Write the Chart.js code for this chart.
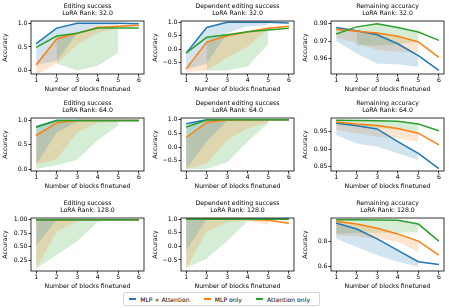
<!DOCTYPE html>
<html>
<head>
<meta charset="utf-8">
<script src="https://cdn.jsdelivr.net/npm/chart.js@4.4.0/dist/chart.umd.min.js"></script>
<style>
  html, body { margin: 0; padding: 0; background: #fff; }
  body { width: 449px; height: 308px; position: relative; overflow: hidden; font-family: "DejaVu Sans", sans-serif; }
  canvas.panel { position: absolute; }
  #legend {
    position: absolute; left: 123px; top: 292px; width: 195px; height: 12px;
    border: 1px solid #d6d6d6; border-radius: 2px; background: #fff;
    font-size: 6.1px; color: #000; display: flex; align-items: center;
  }
  #legend .sw { display: inline-block; width: 12px; height: 1.4px; margin: 0 4px 0 5px; }
  #legend .lb { margin-right: 9px; white-space: nowrap; }
</style>
</head>
<body>
<div id="legend"></div>
<script>
const steps = [1, 2, 3, 4, 5, 6];
const seriesNames = ['MLP + Attention', 'MLP only', 'Attention only'];
const seriesColors = ['#1f77b4', '#ff7f0e', '#2ca02c'];
const seriesFills = ['rgba(31,119,180,0.2)', 'rgba(255,127,14,0.2)', 'rgba(44,160,44,0.2)'];

// y tick values
const editTicks = [0, 0.5, 1.0];
const depTicks = [-0.5, 0, 0.5, 1.0];
const rem32Ticks = [0.96, 0.97, 0.98];
const rem64Ticks = [0.85, 0.90, 0.95];
const edit128Ticks = [0.25, 0.50, 0.75, 1.00];
const rem128Ticks = [0.6, 0.8];

// LoRA rank 32
const edit32Both = [0.57, 0.90, 1.00, 1.00, 1.00, 0.99];
const edit32Mlp  = [0.12, 0.67, 0.79, 0.92, 0.94, 0.96];
const edit32Attn = [0.49, 0.73, 0.79, 0.90, 0.90, 0.90];
const edit32BothLow = [0.12, 0.20, 0.80, 0.95, 0.97];
const edit32MlpLow  = [-0.10, 0.15, 0.55, 0.80, 0.90];
const edit32AttnLow = [null, 0.15, 0.00, 0.10, 0.38];

const dep32Both = [-0.15, 0.81, 1.00, 1.00, 1.00, 0.98];
const dep32Mlp  = [-0.74, 0.26, 0.50, 0.65, 0.78, 0.85];
const dep32Attn = [-0.15, 0.44, 0.54, 0.65, 0.71, 0.78];
const dep32BothLow = [-0.75, -0.55, 0.60, 0.85, 0.90];
const dep32MlpLow  = [-0.85, -0.80, -0.30, 0.10, 0.75];
const dep32AttnLow = [null, -0.80, -0.80, -0.65, 0.20];

const rem32Both = [0.9776, 0.9758, 0.9736, 0.9685, 0.9618, 0.9536];
const rem32Mlp  = [0.9767, 0.9755, 0.9745, 0.9727, 0.9696, 0.9609];
const rem32Attn = [0.9740, 0.9780, 0.9798, 0.9776, 0.9751, 0.9704];
const rem32BothLow = [0.9700, 0.9630, 0.9573, 0.9570, 0.9555];
const rem32MlpLow  = [0.9718, 0.9691, 0.9650, 0.9640, 0.9636];
const rem32AttnLow = [null, 0.9675, 0.9675, 0.9683, 0.9696];

// LoRA rank 64
const edit64Both = [0.87, 1.00, 1.00, 1.00, 1.00, 1.00];
const edit64Mlp  = [0.69, 0.95, 1.00, 1.00, 1.00, 1.00];
const edit64Attn = [0.86, 1.00, 1.00, 1.00, 1.00, 1.00];
const edit64BothLow = [0.10, 0.75, 0.98, 1.00, 1.00];
const edit64MlpLow  = [0.10, 0.20, 0.75, 0.95, 0.98];
const edit64AttnLow = [0.00, 0.08, 0.19, 0.60, 0.90];

const dep64Both = [0.85, 1.00, 1.00, 1.00, 1.00, 1.00];
const dep64Mlp  = [0.35, 0.90, 0.99, 1.00, 1.00, 1.00];
const dep64Attn = [0.73, 0.99, 1.00, 1.00, 1.00, 1.00];
const dep64BothLow = [-0.80, 0.20, 0.95, 1.00, 1.00];
const dep64MlpLow  = [-0.80, -0.60, 0.25, 0.70, 0.90];
const dep64AttnLow = [-0.80, -0.80, -0.55, 0.20, 0.88];

const rem64Both = [0.974, 0.966, 0.957, 0.921, 0.888, 0.845];
const rem64Mlp  = [0.977, 0.971, 0.967, 0.958, 0.945, 0.912];
const rem64Attn = [0.982, 0.981, 0.980, 0.979, 0.971, 0.952];
const rem64BothLow = [0.940, 0.916, 0.907, 0.888, 0.869];
const rem64MlpLow  = [0.955, 0.945, 0.935, 0.930, 0.921];
const rem64AttnLow = [0.969, 0.964, 0.960, 0.955, 0.950];

// LoRA rank 128
const edit128Both = [1.00, 1.00, 1.00, 1.00, 1.00, 1.00];
const edit128Mlp  = [1.00, 1.00, 1.00, 1.00, 1.00, 1.00];
const edit128Attn = [1.00, 1.00, 1.00, 1.00, 1.00, 1.00];
const edit128BothLow = [0.52, 1.00, 1.00, 1.00, 1.00];
const edit128MlpLow  = [0.10, 0.78, 0.97, 1.00, 1.00];
const edit128AttnLow = [0.09, 0.35, 0.60, 0.96, 1.00];

const dep128Both = [1.00, 1.00, 1.00, 1.00, 1.00, 1.00];
const dep128Mlp  = [1.00, 1.00, 1.00, 1.00, 0.97, 0.86];
const dep128Attn = [1.00, 1.00, 1.00, 1.00, 1.00, 1.00];
const dep128BothLow = [-0.15, 1.00, 1.00, 1.00, 1.00];
const dep128MlpLow  = [-0.80, 0.55, 0.90, 0.95, 0.80];
const dep128AttnLow = [-0.80, -0.45, 0.20, 0.93, 0.98];

const rem128Both = [0.949, 0.901, 0.821, 0.728, 0.635, 0.613];
const rem128Mlp  = [0.963, 0.941, 0.907, 0.861, 0.803, 0.688];
const rem128Attn = [0.976, 0.976, 0.973, 0.971, 0.941, 0.803];
const rem128BothLow = [0.821, 0.755, 0.688, 0.635, 0.595];
const rem128MlpLow  = [0.848, 0.840, 0.820, 0.800, 0.715];
const rem128AttnLow = [0.860, 0.870, 0.870, 0.870, 0.875];

const panels = [
  { title: 'Editing success', rank: '32.0', yMin: -0.075, yMax: 1.05, ticks: editTicks, dec: 1,
    lines: [edit32Both, edit32Mlp, edit32Attn], lows: [edit32BothLow, edit32MlpLow, edit32AttnLow] },
  { title: 'Dependent editing success', rank: '32.0', yMin: -0.93, yMax: 1.05, ticks: depTicks, dec: 1,
    lines: [dep32Both, dep32Mlp, dep32Attn], lows: [dep32BothLow, dep32MlpLow, dep32AttnLow] },
  { title: 'Remaining accuracy', rank: '32.0', yMin: 0.9515, yMax: 0.9813, ticks: rem32Ticks, dec: 2,
    lines: [rem32Both, rem32Mlp, rem32Attn], lows: [rem32BothLow, rem32MlpLow, rem32AttnLow] },
  { title: 'Editing success', rank: '64.0', yMin: -0.04, yMax: 1.05, ticks: editTicks, dec: 1,
    lines: [edit64Both, edit64Mlp, edit64Attn], lows: [edit64BothLow, edit64MlpLow, edit64AttnLow] },
  { title: 'Dependent editing success', rank: '64.0', yMin: -0.87, yMax: 1.06, ticks: depTicks, dec: 1,
    lines: [dep64Both, dep64Mlp, dep64Attn], lows: [dep64BothLow, dep64MlpLow, dep64AttnLow] },
  { title: 'Remaining accuracy', rank: '64.0', yMin: 0.838, yMax: 0.988, ticks: rem64Ticks, dec: 2,
    lines: [rem64Both, rem64Mlp, rem64Attn], lows: [rem64BothLow, rem64MlpLow, rem64AttnLow] },
  { title: 'Editing success', rank: '128.0', yMin: 0.05, yMax: 1.03, ticks: edit128Ticks, dec: 2,
    lines: [edit128Both, edit128Mlp, edit128Attn], lows: [edit128BothLow, edit128MlpLow, edit128AttnLow] },
  { title: 'Dependent editing success', rank: '128.0', yMin: -0.91, yMax: 1.05, ticks: depTicks, dec: 1,
    lines: [dep128Both, dep128Mlp, dep128Attn], lows: [dep128BothLow, dep128MlpLow, dep128AttnLow] },
  { title: 'Remaining accuracy', rank: '128.0', yMin: 0.56, yMax: 0.99, ticks: rem128Ticks, dec: 1,
    lines: [rem128Both, rem128Mlp, rem128Attn], lows: [rem128BothLow, rem128MlpLow, rem128AttnLow] }
];

const plotLeft = [31, 181, 331];
const plotTop = [21, 118, 218];
const yAxisW = 31;
const FONT = 6.2;

Chart.defaults.color = '#000';
Chart.defaults.font.family = '"DejaVu Sans", sans-serif';
Chart.defaults.font.size = FONT;

const frame = {
  id: 'frame',
  afterDraw(chart) {
    const { ctx, chartArea: a } = chart;
    ctx.save();
    ctx.strokeStyle = '#000';
    ctx.lineWidth = 0.8;
    ctx.strokeRect(a.left, a.top, a.right - a.left, a.bottom - a.top);
    ctx.restore();
  }
};

function pts(arr) {
  return arr.map((v, i) => ({ x: steps[i], y: v }));
}

panels.forEach((p, k) => {
  const col = k % 3, row = Math.floor(k / 3);
  const canvas = document.createElement('canvas');
  canvas.className = 'panel';
  canvas.width = 149;
  canvas.height = 100;
  canvas.style.left = (plotLeft[col] - yAxisW) + 'px';
  canvas.style.top = (plotTop[row] - 21) + 'px';
  document.body.appendChild(canvas);

  const datasets = [];
  // mean lines, green on top
  p.lines.forEach((arr, s) => {
    datasets.push({
      label: seriesNames[s], data: pts(arr), borderColor: seriesColors[s],
      borderWidth: 1.5, pointRadius: 0, fill: false, order: 3 - s
    });
  });
  // min/max bands
  p.lows.forEach((low, s) => {
    const high = low.map((v, i) => (v === null ? null : p.lines[s][i]));
    datasets.push({ data: pts(low), borderWidth: 0, pointRadius: 0, fill: false, order: 10 + s });
    datasets.push({ data: pts(high), borderWidth: 0, pointRadius: 0, fill: '-1',
      backgroundColor: seriesFills[s], order: 10 + s });
  });

  new Chart(canvas, {
    type: 'line',
    data: { datasets },
    plugins: [frame],
    options: {
      responsive: false,
      animation: false,
      devicePixelRatio: 1,
      layout: { padding: { left: 0, right: 5, top: 0, bottom: 0 } },
      plugins: {
        legend: { display: false },
        tooltip: { enabled: false },
        filler: { drawTime: 'beforeDatasetsDraw' },
        title: {
          display: true, fullSize: false, text: [p.title, 'LoRA Rank: ' + p.rank],
          font: { size: FONT, weight: 'normal', lineHeight: 1.13 },
          padding: { top: 2.5, bottom: 4.5 }, color: '#000'
        }
      },
      scales: {
        x: {
          type: 'linear', min: 0.75, max: 6.25,
          afterBuildTicks: sc => { sc.ticks = steps.map(v => ({ value: v })); },
          afterFit: sc => { sc.height = 26; },
          grid: { display: true, drawOnChartArea: false, drawTicks: true, tickLength: 2.5, color: '#000', lineWidth: 0.8 },
          border: { display: false },
          ticks: { padding: 0.5, maxRotation: 0, callback: v => String(v) },
          title: { display: true, text: 'Number of blocks finetuned', padding: { top: 0, bottom: 7.3 } }
        },
        y: {
          type: 'linear', min: p.yMin, max: p.yMax,
          afterBuildTicks: sc => { sc.ticks = p.ticks.map(v => ({ value: v })); },
          afterFit: sc => { sc.width = yAxisW; },
          grid: { display: true, drawOnChartArea: false, drawTicks: true, tickLength: 2.5, color: '#000', lineWidth: 0.8 },
          border: { display: false },
          ticks: { padding: 1, callback: v => v.toFixed(p.dec).replace('-', '\u2212') },
          title: { display: true, text: 'Accuracy', padding: { top: 1.3, bottom: 0 } }
        }
      }
    }
  });
});

// shared legend
const legend = document.getElementById('legend');
seriesNames.forEach((name, s) => {
  const sw = document.createElement('span');
  sw.className = 'sw';
  sw.style.background = seriesColors[s];
  const lb = document.createElement('span');
  lb.className = 'lb';
  lb.textContent = name;
  legend.appendChild(sw);
  legend.appendChild(lb);
});
</script>
</body>
</html>
